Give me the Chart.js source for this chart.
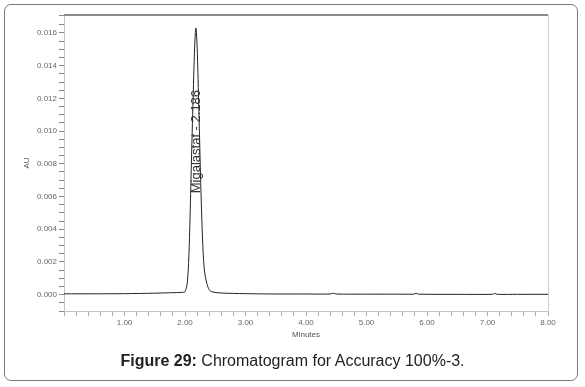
<!DOCTYPE html>
<html>
<head>
    <meta charset="UTF-8">
    <title>Chromatogram for Accuracy 100%-3</title>
    <script src="https://cdn.jsdelivr.net/npm/chart.js"></script>
    <style>
        body { margin: 0; width: 585px; height: 387px; background: #fff; position: relative; overflow: hidden; font-family: Arial, "Liberation Sans", sans-serif; }
        .frame { position: absolute; left: 4px; top: 4px; width: 572px; height: 375px; border: 1px solid #7a7a7a; border-radius: 7px; }
        .chart-box { position: absolute; left: 0; top: 0; width: 585px; height: 387px; }
        .caption { position: absolute; left: 0; width: 585px; top: 352px; text-align: center; font-size: 16px; color: #222; }
    </style>
</head>
<body>
    <div class="frame"></div>
    <div class="chart-box"><canvas id="chromChart"></canvas></div>
    <div class="caption"><b>Figure 29:</b> Chromatogram for Accuracy 100%-3.</div>

    <script type="text/javascript">
        // retention time (min) and detector response (AU)
        const minutes = [0, 0.5, 1.0, 1.5, 1.8, 1.95, 2.00, 2.04, 2.07, 2.10, 2.13, 2.16, 2.18, 2.20, 2.23, 2.26, 2.29, 2.32, 2.36, 2.40, 2.46, 2.6, 3.0, 3.5, 4.0, 4.4, 4.45, 4.5, 5.0, 5.5, 5.78, 5.82, 5.86, 6.5, 7.08, 7.12, 7.16, 7.5, 8.0];
        const absorbance = [0.00005, 0.00005, 0.00006, 0.00009, 0.00012, 0.00014, 0.00018, 0.0008, 0.0030, 0.0072, 0.0115, 0.0152, 0.0163, 0.0152, 0.0112, 0.0068, 0.0034, 0.0015, 0.0007, 0.0003, 0.00016, 0.00010, 0.00006, 0.00004, 0.00004, 0.00004, 0.00009, 0.00004, 0.00003, 0.00003, 0.00003, 0.00008, 0.00003, 0.00002, 0.00002, 0.00007, 0.00002, 0.00002, 0.00002];

        const peakName = 'Migalastat';
        const peakTime = 2.186;

        const yLabelStep = 0.002;
        const xLabelStep = 1;

        const points = minutes.map((t, i) => ({ x: t, y: absorbance[i] }));

        const isMultiple = (v, step) => Math.abs(v / step - Math.round(v / step)) < 1e-6;

        const frameLines = {
            id: 'frameLines',
            afterDraw(chart) {
                const { ctx, chartArea } = chart;
                ctx.save();
                ctx.strokeStyle = '#8a8a8a';
                ctx.lineWidth = 2;
                ctx.beginPath();
                ctx.moveTo(chartArea.left, chartArea.top);
                ctx.lineTo(chartArea.right, chartArea.top);
                ctx.stroke();
                ctx.strokeStyle = '#cfcfcf';
                ctx.lineWidth = 1;
                ctx.beginPath();
                ctx.moveTo(chartArea.right + 0.5, chartArea.top);
                ctx.lineTo(chartArea.right + 0.5, chartArea.bottom);
                ctx.stroke();

                // peak annotation
                const xs = chart.scales.x, ys = chart.scales.y;
                ctx.translate(xs.getPixelForValue(2.18) + 4, ys.getPixelForValue(0.0062));
                ctx.rotate(-Math.PI / 2);
                ctx.font = '13px Arial, "Liberation Sans", sans-serif';
                ctx.fillStyle = '#333';
                ctx.textAlign = 'left';
                ctx.textBaseline = 'alphabetic';
                ctx.fillText(peakName + ' - ' + peakTime.toFixed(3), 0, 0);
                ctx.restore();
            }
        };

        const tickFont = { family: 'Arial, "Liberation Sans", sans-serif', size: 8 };

        new Chart(document.getElementById('chromChart'), {
            type: 'line',
            data: {
                datasets: [{
                    data: points,
                    borderColor: '#222',
                    borderWidth: 1,
                    pointRadius: 0,
                    tension: 0.3,
                    fill: false
                }]
            },
            options: {
                responsive: true,
                maintainAspectRatio: false,
                animation: false,
                layout: { padding: { left: 18, top: 15, right: 37, bottom: 43 } },
                plugins: { legend: { display: false }, tooltip: { enabled: false } },
                scales: {
                    x: {
                        type: 'linear',
                        min: 0,
                        max: 8,
                        afterFit: s => { s.height = 33; },
                        border: { color: '#c4c4c4' },
                        grid: { drawOnChartArea: false, tickLength: 5, tickColor: '#b0b0b0' },
                        ticks: {
                            stepSize: 0.2,
                            autoSkip: false,
                            maxRotation: 0,
                            padding: 2,
                            color: '#666',
                            font: tickFont,
                            callback: v => (v > 0 && isMultiple(v, xLabelStep)) ? v.toFixed(2) : ''
                        },
                        title: { display: true, text: 'Minutes', color: '#555', font: tickFont }
                    },
                    y: {
                        min: -0.001,
                        max: 0.0171,
                        afterFit: s => { s.width = 46; },
                        border: { color: '#c4c4c4' },
                        grid: { drawOnChartArea: false, tickLength: 5, tickColor: '#888' },
                        ticks: {
                            stepSize: 0.0005,
                            autoSkip: false,
                            padding: 2,
                            color: '#666',
                            font: tickFont,
                            callback: v => isMultiple(v, yLabelStep) ? v.toFixed(3) : ''
                        },
                        title: { display: true, text: 'AU', color: '#555', font: tickFont }
                    }
                }
            },
            plugins: [frameLines]
        });
    </script>
</body>
</html>
